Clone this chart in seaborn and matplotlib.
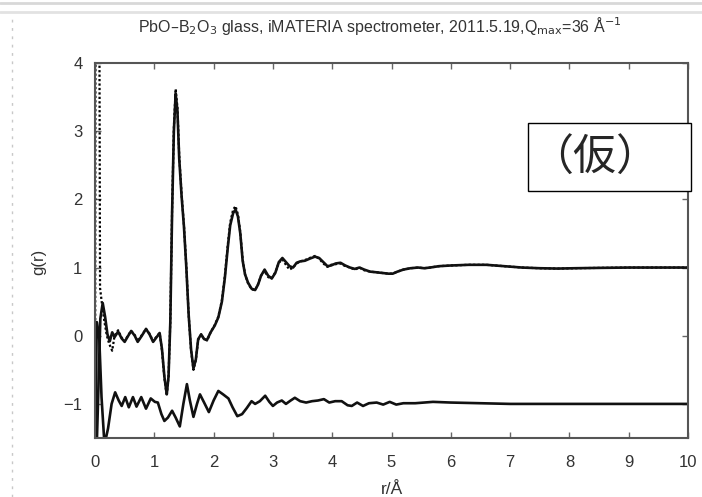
import matplotlib
matplotlib.use("Agg")
import numpy as np
import pandas as pd
import matplotlib.pyplot as plt
import seaborn as sns
from matplotlib.patches import Rectangle
from matplotlib.lines import Line2D

# --- pair distribution function g(r) of PbO-B2O3 glass ---
# fitted / transformed g(r) (solid line)
r_fit = [0.00, 0.05, 0.09, 0.13, 0.17, 0.21, 0.25, 0.29, 0.33, 0.39, 0.45, 0.50, 0.56,
         0.61, 0.67, 0.72, 0.79, 0.86, 0.92, 0.98, 1.04, 1.09, 1.13, 1.17, 1.21, 1.24,
         1.27, 1.30, 1.33, 1.36, 1.39, 1.42, 1.46, 1.50, 1.54, 1.58, 1.62, 1.66, 1.70,
         1.74, 1.79, 1.84, 1.89, 1.95, 2.02, 2.08, 2.14, 2.19, 2.24, 2.28, 2.33, 2.37,
         2.41, 2.45, 2.49, 2.53, 2.58, 2.64, 2.70, 2.75, 2.80, 2.86, 2.92, 2.98, 3.04,
         3.10, 3.16, 3.22, 3.28, 3.34, 3.40, 3.46, 3.54, 3.62, 3.71, 3.78, 3.85, 3.92,
         3.98, 4.06, 4.14, 4.22, 4.30, 4.38, 4.46, 4.54, 4.64, 4.75, 4.85, 4.95, 5.02,
         5.10, 5.20, 5.32, 5.45, 5.55, 5.65, 5.80, 6.00, 6.30, 6.60, 6.90, 7.20, 7.50,
         7.80, 8.10, 8.50, 9.00, 9.50, 10.00]
g_fit = [-2.50, -1.00, 0.25, 0.48, 0.28, 0.02, -0.08, 0.05, -0.02, 0.06, -0.04, -0.09, 0.00,
         0.07, 0.00, -0.09, 0.00, 0.10, 0.02, -0.09, -0.02, 0.04, -0.20, -0.60, -0.86, -0.60,
         0.20, 1.80, 3.00, 3.55, 3.30, 2.60, 2.05, 1.60, 1.00, 0.30, -0.20, -0.48, -0.35,
         -0.05, 0.02, -0.05, -0.06, 0.05, 0.15, 0.27, 0.50, 0.85, 1.30, 1.62, 1.80, 1.85,
         1.75, 1.50, 1.10, 0.90, 0.78, 0.69, 0.67, 0.75, 0.88, 0.97, 0.88, 0.84, 0.92,
         1.08, 1.14, 1.08, 1.02, 1.00, 1.07, 1.09, 1.10, 1.13, 1.16, 1.14, 1.08, 1.02,
         1.03, 1.06, 1.07, 1.03, 1.00, 0.98, 1.00, 0.97, 0.94, 0.93, 0.92, 0.91, 0.91,
         0.94, 0.97, 0.99, 1.00, 0.99, 1.00, 1.02, 1.03, 1.04, 1.04, 1.02, 1.00, 0.99,
         0.985, 0.99, 0.995, 1.00, 1.00, 1.00]

# measured g(r) (dotted line)
r_exp = [0.00, 0.01, 0.07, 0.085, 0.12, 0.16, 0.20, 0.24, 0.29, 0.33, 0.39, 0.45, 0.50,
         0.56, 0.61, 0.67, 0.72, 0.79, 0.86, 0.92, 0.98, 1.04, 1.09, 1.13, 1.17, 1.21,
         1.24, 1.27, 1.30, 1.33, 1.36, 1.39, 1.42, 1.46, 1.50, 1.54, 1.58, 1.62, 1.66,
         1.70, 1.74, 1.79, 1.84, 1.89, 1.95, 2.02, 2.08, 2.14, 2.19, 2.24, 2.28, 2.33,
         2.37, 2.41, 2.45, 2.49, 2.53, 2.58, 2.64, 2.70, 2.75, 2.80, 2.86, 2.92, 2.98,
         3.04, 3.10, 3.16, 3.22, 3.28, 3.34, 3.40, 3.46, 3.54, 3.62, 3.71, 3.78, 3.85,
         3.92, 3.98, 4.06, 4.14, 4.22, 4.30, 4.38, 4.46, 4.54, 4.64, 4.75, 4.85, 4.95,
         5.02, 5.10, 5.20, 5.32, 5.45, 5.55, 5.65, 5.80, 6.00, 6.30, 6.60, 6.90, 7.20,
         7.50, 7.80, 8.10, 8.50, 9.00, 9.50, 10.00]
g_exp = [-3.00, 6.00, 6.00, 0.70, 0.45, 0.20, 0.00, -0.12, -0.22, 0.00, 0.08, -0.03, -0.08,
         0.01, 0.07, 0.01, -0.08, 0.01, 0.10, 0.03, -0.08, -0.01, 0.04, -0.22, -0.62, -0.88,
         -0.60, 0.22, 1.85, 3.05, 3.62, 3.35, 2.65, 2.08, 1.62, 1.02, 0.30, -0.22, -0.50,
         -0.36, -0.06, 0.02, -0.05, -0.07, 0.05, 0.16, 0.28, 0.52, 0.88, 1.34, 1.66, 1.85,
         1.90, 1.78, 1.52, 1.12, 0.90, 0.77, 0.68, 0.67, 0.76, 0.88, 0.95, 0.86, 0.84,
         0.93, 1.07, 1.12, 1.04, 0.97, 1.00, 1.06, 1.09, 1.11, 1.14, 1.17, 1.13, 1.06,
         1.01, 1.04, 1.05, 1.06, 1.02, 1.00, 0.97, 1.00, 0.96, 0.94, 0.93, 0.92, 0.91,
         0.91, 0.94, 0.97, 0.99, 1.00, 0.99, 1.00, 1.02, 1.03, 1.04, 1.04, 1.02, 1.00,
         0.99, 0.985, 0.99, 0.995, 1.00, 1.00, 1.00]

# residual curve, shifted down by 1
r_dif = [0.00, 0.03, 0.07, 0.11, 0.16, 0.22, 0.28, 0.34, 0.40, 0.45, 0.51, 0.57, 0.64,
         0.70, 0.78, 0.86, 0.94, 1.01, 1.06, 1.12, 1.17, 1.23, 1.30, 1.36, 1.43, 1.49,
         1.55, 1.60, 1.66, 1.72, 1.77, 1.84, 1.92, 2.00, 2.08, 2.16, 2.25, 2.32, 2.40,
         2.48, 2.56, 2.64, 2.70, 2.78, 2.87, 2.94, 3.00, 3.07, 3.15, 3.22, 3.30, 3.37,
         3.46, 3.56, 3.66, 3.76, 3.86, 3.95, 4.05, 4.16, 4.26, 4.33, 4.42, 4.52, 4.62,
         4.75, 4.86, 4.97, 5.08, 5.20, 5.40, 5.70, 6.00, 6.50, 7.00, 8.00, 9.00, 10.00]
g_dif = [-2.00, 0.20, 0.00, -0.90, -1.60, -1.36, -1.00, -0.83, -0.95, -1.03, -0.90, -1.05, -0.90,
         -1.04, -0.90, -1.07, -0.92, -0.97, -0.98, -1.15, -1.25, -1.20, -1.10, -1.20, -1.33, -1.00,
         -0.71, -0.95, -1.19, -1.00, -0.86, -0.98, -1.12, -0.95, -0.81, -0.86, -0.92, -1.05, -1.18,
         -1.15, -1.06, -0.96, -1.00, -0.96, -0.88, -0.97, -1.03, -0.98, -0.95, -1.00, -0.95, -0.91,
         -0.96, -0.98, -0.96, -0.95, -0.93, -0.98, -0.96, -0.96, -1.02, -1.03, -0.98, -1.03, -0.99,
         -0.98, -1.01, -0.97, -1.01, -0.99, -0.99, -0.97, -0.98, -0.99, -1.00, -1.00, -1.00, -1.00]

x_ticks = [0, 1, 2, 3, 4, 5, 6, 7, 8, 9, 10]
y_ticks = [-1, 0, 1, 2, 3, 4]

sns.set_style("ticks")
plt.rcParams["font.family"] = ["Liberation Sans", "Noto Sans CJK JP", "DejaVu Sans"]

fig = plt.figure(figsize=(7.02, 4.97), dpi=100)
ax = fig.add_axes([95 / 702, 1 - 438 / 497, 593 / 702, 375 / 497])

fit_df = pd.DataFrame({"r": r_fit, "g": g_fit})
exp_df = pd.DataFrame({"r": r_exp, "g": g_exp})
dif_df = pd.DataFrame({"r": r_dif, "g": g_dif})

sns.lineplot(data=exp_df, x="r", y="g", ax=ax, color="black", lw=1.6,
             linestyle=(0, (1, 1)), sort=False, estimator=None)
sns.lineplot(data=fit_df, x="r", y="g", ax=ax, color="#111111", lw=1.9,
             sort=False, estimator=None)
sns.lineplot(data=dif_df, x="r", y="g", ax=ax, color="#111111", lw=1.9,
             sort=False, estimator=None)

ax.set_xlim(0, 10)
ax.set_ylim(-1.5, 4)
ax.set_xticks(x_ticks)
ax.set_yticks(y_ticks)
ax.set_yticklabels(["\u22121", "0", "1", "2", "3", "4"])
ax.tick_params(direction="in", top=True, right=True, length=4, width=1,
               color="#666666", labelsize=12, labelcolor="#333333")
ax.tick_params(axis="x", pad=12)
ax.tick_params(axis="y", pad=9)
for sp in ax.spines.values():
    sp.set_color("#555555")
    sp.set_linewidth(1.5)

ax.set_xlabel("r/Å", fontsize=12.5, color="#333333", labelpad=9)
ax.set_ylabel("g(r)", fontsize=12, color="#333333")
ax.yaxis.set_label_coords(-0.082, 0.47)

fig.text(380 / 702, 1 - 26 / 497,
         "PbO\u2013B$_2$O$_3$ glass, iMATERIA spectrometer, 2011.5.19,Q$_{\\rm max}$=36 Å$^{-1}$",
         ha="center", va="center", fontsize=11.5, color="#333333")

# label box
fig.patches.append(Rectangle((528 / 702, 1 - 191 / 497), 163 / 702, 68 / 497,
                             transform=fig.transFigure, facecolor="white",
                             edgecolor="black", lw=1.0, zorder=5))
fig.text(595 / 702, 1 - 159 / 497, "（仮）", ha="center", va="center",
         fontsize=31, family=["Noto Sans CJK JP", "DejaVu Sans"], zorder=6)

# page frame lines
fig.lines.append(Line2D([0, 1], [1 - 3 / 497, 1 - 3 / 497], transform=fig.transFigure,
                        color="#d8d8d8", lw=2))
fig.lines.append(Line2D([0, 1], [1 - 12 / 497, 1 - 12 / 497], transform=fig.transFigure,
                        color="#e2e2e2", lw=2))
fig.lines.append(Line2D([12 / 702, 12 / 702], [0, 1 - 16 / 497], transform=fig.transFigure,
                        color="#c8c8c8", lw=1, linestyle=(0, (2, 4))))

fig.savefig("out.png", dpi=100)
